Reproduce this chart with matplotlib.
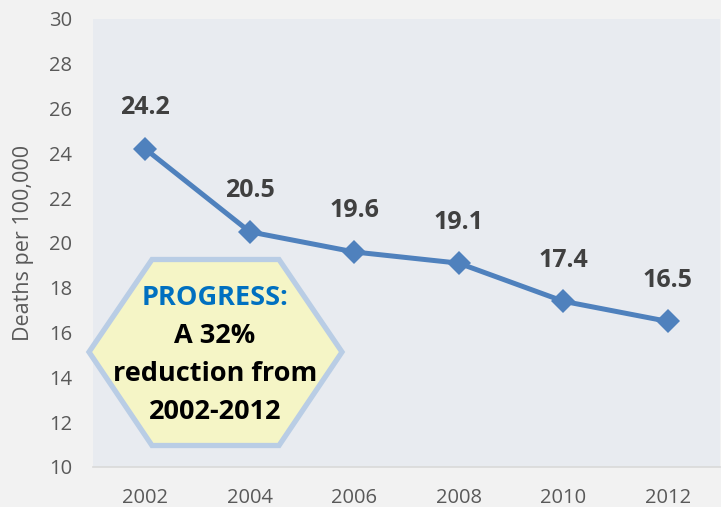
import matplotlib
matplotlib.use("Agg")
import matplotlib.pyplot as plt
from matplotlib.patches import Polygon

plt.rcParams['font.family'] = ['Open Sans', 'DejaVu Sans']

years = ["2002", "2004", "2006", "2008", "2010", "2012"]
deaths = [24.2, 20.5, 19.6, 19.1, 17.4, 16.5]
y_ticks = [10, 12, 14, 16, 18, 20, 22, 24, 26, 28, 30]
y_label = "Deaths per 100,000"
box_lines = ["PROGRESS:", "A 32%", "reduction from", "2002-2012"]

W, H = 721, 507
fig = plt.figure(figsize=(W / 100, H / 100), dpi=100, facecolor="#F2F2F2")
ax = fig.add_axes([93 / W, 1 - 467 / H, (720 - 93) / W, (467 - 19) / H])
ax.set_facecolor("#E8EBF0")

x = list(range(len(years)))
ax.plot(x, deaths, color="#4F81BD", lw=3.6, marker="D", markersize=12.5,
        markeredgewidth=0, zorder=3)
for xi, v in zip(x, deaths):
    ax.annotate(f"{v:.1f}", (xi, v), xytext=(0, 29.5), textcoords="offset points",
                ha="center", va="center", fontsize=18, fontweight="bold",
                color="#404040", zorder=4)

ax.set_xlim(-0.5, len(years) - 0.5)
ax.set_ylim(10, 30)
ax.set_yticks(y_ticks)
ax.set_xticks(x)
ax.set_xticklabels(years)
ax.tick_params(axis="both", length=0, labelsize=14.5, labelcolor="#595959")
ax.tick_params(axis="y", pad=15)
ax.tick_params(axis="x", pad=15)
for s in ["top", "right", "left"]:
    ax.spines[s].set_visible(False)
ax.spines["bottom"].set_color("#D9D9D9")
ax.spines["bottom"].set_linewidth(1.2)
ax.set_ylabel(y_label, fontsize=15.5, color="#595959")
ax.yaxis.set_label_coords(-0.094, 0.5)

# hexagon callout (pixel coords -> figure fraction)
hex_px = [(89, 352), (152, 259.5), (279, 259.5), (342, 352), (279, 445.5), (152, 445.5)]
hex_fig = [(px / W, 1 - py / H) for px, py in hex_px]
hexagon = Polygon(hex_fig, closed=True, transform=fig.transFigure,
                  facecolor="#F5F5C6", edgecolor="#B9CDE5", linewidth=3.8,
                  joinstyle="miter", zorder=5)
fig.patches.append(hexagon)

baselines = [305, 343, 381, 419]
colors = ["#0070C0", "#000000", "#000000", "#000000"]
for line, by, c in zip(box_lines, baselines, colors):
    fig.text(215 / W, 1 - by / H, line, ha="center", va="baseline",
             fontsize=19.5, fontweight="bold", color=c, zorder=6)

fig.savefig("out.png", dpi=100, facecolor=fig.get_facecolor())
